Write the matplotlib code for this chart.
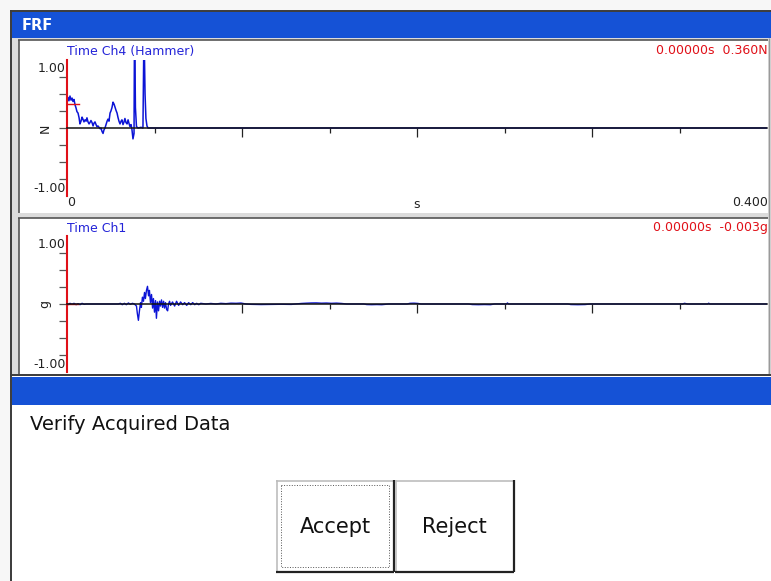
import matplotlib
matplotlib.use("Agg")
import matplotlib.pyplot as plt
from matplotlib.patches import Rectangle
from matplotlib.ticker import FixedLocator

# Ch4 (hammer) time trace, ms and N
hammer_ms = [0.0, 0.6, 1.1, 1.7, 2.3, 2.9, 3.4, 4.0, 4.6, 5.1, 5.7, 6.3, 6.9, 7.4,
             8.0, 8.6, 9.1, 9.7, 10.3, 10.9, 11.4, 12.0, 12.6, 13.1, 13.7, 14.3,
             14.9, 15.4, 16.0, 16.6, 17.1, 17.7, 18.3, 18.9, 19.4, 20.0, 20.6,
             21.1, 21.7, 22.3, 22.9, 23.4, 24.0, 24.6, 25.1, 25.7, 26.3, 26.9,
             27.4, 28.0, 28.6, 29.1, 29.7, 30.3, 30.9, 31.4, 32.0, 32.6, 33.1,
             33.7, 34.3, 34.9, 35.4, 36.0, 36.6, 37.1, 37.7, 38.3, 38.6, 39.1,
             39.7, 40.6, 42.3, 43.4, 44.0, 44.6, 45.1, 45.7, 46.3, 400.0]
hammer_n = [0.38, 0.45, 0.40, 0.47, 0.41, 0.44, 0.39, 0.42, 0.34, 0.30, 0.24, 0.22,
            0.15, 0.06, 0.10, 0.16, 0.13, 0.09, 0.12, 0.10, 0.15, 0.09, 0.06, 0.08,
            0.11, 0.08, 0.03, 0.07, 0.09, 0.05, 0.02, 0.03, 0.01, -0.01, 0.00,
            -0.05, -0.08, -0.03, 0.00, 0.05, 0.10, 0.13, 0.10, 0.22, 0.25, 0.30,
            0.38, 0.35, 0.31, 0.26, 0.22, 0.16, 0.10, 0.06, 0.10, 0.12, 0.05, 0.09,
            0.14, 0.08, 0.06, 0.12, 0.07, 0.02, 0.05, -0.02, -0.16, -0.08, 1.60,
            0.30, 0.02, 0.00, 0.01, 0.00, 1.50, 0.50, 0.14, 0.03, 0.00, 0.00]

# Ch1 (response) time trace, ms and g
resp_ms = [0.0, 0.6, 1.7, 2.9, 4.0, 5.2, 6.3, 7.5, 8.6, 9.8, 10.9, 29.3, 30.5, 31.6,
           32.8, 33.9, 35.1, 36.2, 37.4, 38.5, 39.7, 40.2, 40.8, 41.4, 42.0, 42.5,
           43.1, 43.7, 44.3, 44.8, 45.4, 46.0, 46.6, 47.1, 47.7, 48.3, 48.9, 49.4,
           50.0, 50.6, 51.1, 51.7, 52.3, 52.9, 53.4, 54.0, 54.6, 55.2, 55.7, 56.3,
           56.9, 57.5, 58.0, 58.6, 59.2, 60.3, 61.5, 62.6, 63.8, 64.9, 66.1, 67.2,
           68.4, 69.5, 70.7, 71.8, 73.0, 74.1, 75.3, 76.4, 79.3, 82.2, 85.1, 87.9,
           90.8, 93.7, 96.6, 99.4, 102.3, 105.2, 110.9, 116.7, 122.4, 128.2, 133.9,
           136.8, 139.7, 142.5, 145.4, 148.3, 151.1, 154.0, 156.9, 159.8, 169.5,
           171.3, 174.1, 177.0, 179.9, 183.9, 194.3, 196.0, 198.3, 200.6, 202.3,
           229.3, 231.6, 235.1, 238.5, 242.0, 244.3, 251.1, 251.7, 252.3, 286.2,
           287.9, 291.9, 296.0, 298.9, 351.7, 352.9, 354.6, 366.1, 366.7, 367.2,
           400.0]
resp_g = [0.0, -0.01, 0.01, -0.005, 0.01, -0.01, 0.005, -0.01, 0.01, -0.005, 0.0,
          0.0, 0.01, -0.01, 0.01, -0.01, 0.015, -0.005, 0.01, 0.0, -0.03, -0.14,
          -0.24, -0.10, 0.02, -0.05, 0.10, 0.04, 0.17, 0.08, 0.20, 0.26, 0.12,
          0.20, 0.02, 0.14, -0.06, 0.08, -0.12, 0.05, -0.21, 0.03, -0.10, 0.04,
          -0.03, 0.06, -0.05, 0.04, -0.06, 0.02, -0.08, -0.10, 0.00, 0.04, -0.02,
          0.03, -0.03, 0.04, -0.02, 0.03, -0.01, 0.02, -0.02, 0.02, -0.01, 0.02,
          -0.01, 0.01, -0.01, 0.01, 0.0, 0.008, 0.0, 0.01, 0.005, 0.012, 0.01,
          0.014, 0.0, -0.005, -0.008, -0.006, -0.004, -0.006, 0.008, 0.012, 0.015,
          0.016, 0.012, 0.014, 0.010, 0.013, 0.008, 0.0, 0.0, -0.008, -0.01,
          -0.008, -0.01, 0.0, 0.0, 0.01, 0.012, 0.008, 0.0, 0.0, -0.008, -0.01,
          -0.008, -0.01, 0.0, 0.0, 0.015, 0.0, 0.0, -0.008, -0.01, -0.008, 0.0,
          0.0, 0.01, 0.0, 0.0, 0.012, 0.0, 0.0]

cursor_s = 0.0
cursor_hammer = 0.360
cursor_resp = -0.003
x_max = 0.400
y_lim = 1.00

W, H = 771, 581
BLUE_BAR = "#1552d6"
SIG = "#0c14d6"
TXT_BLUE = "#2424d8"
RED = "#e01018"
DARK = "#3a3a3a"

fig = plt.figure(figsize=(W / 100, H / 100), dpi=100, facecolor="#f7f7f7")

# background axes in pixel coordinates for the window chrome
bg = fig.add_axes([0, 0, 1, 1])
bg.set_xlim(0, W)
bg.set_ylim(H, 0)
bg.axis("off")


def rect(x0, y0, x1, y1, fc, ec="none", lw=0, **kw):
    bg.add_patch(Rectangle((x0, y0), x1 - x0, y1 - y0, facecolor=fc,
                           edgecolor=ec, linewidth=lw, **kw))


def hline(x0, x1, y, c, lw=1.0, **kw):
    bg.plot([x0, x1], [y, y], color=c, lw=lw, solid_capstyle="butt", **kw)


def vline(x, y0, y1, c, lw=1.0, **kw):
    bg.plot([x, x], [y0, y1], color=c, lw=lw, solid_capstyle="butt", **kw)


# outer window
rect(11, 11, W, H, "#dcdcdc")
hline(10, W, 10.5, DARK, 1.4)
vline(10.5, 10, H, DARK, 1.4)
rect(12, 12, W, 38, BLUE_BAR)
bg.text(22, 25.5, "FRF", color="white", fontsize=10.5, fontweight="bold",
        ha="left", va="center")

# two plot panels
for top, bot in [(40, 213), (218, 376)]:
    rect(19, top, 768, bot, "white")
    hline(18, 768, top, "#555555", 1.2)
    vline(18.5, top, bot, "#555555", 1.2)
vline(769, 38, 376, "#9a9a9a", 1.0)


def add_plot(y_top, y_bot):
    ax = fig.add_axes([67 / W, 1 - y_bot / H, 700 / W, (y_bot - y_top) / H])
    ax.set_xlim(0, x_max)
    ax.set_ylim(-y_lim, y_lim)
    ax.patch.set_alpha(0)
    ax.spines["top"].set_visible(False)
    ax.spines["right"].set_visible(False)
    ax.spines["left"].set_color(RED)
    ax.spines["left"].set_linewidth(1.5)
    ax.spines["bottom"].set_position(("data", 0))
    ax.spines["bottom"].set_color("#111111")
    ax.spines["bottom"].set_linewidth(1.1)
    ax.xaxis.set_major_locator(FixedLocator([0.1, 0.2, 0.3]))
    ax.xaxis.set_minor_locator(FixedLocator([0.05, 0.15, 0.25, 0.35]))
    ax.yaxis.set_major_locator(FixedLocator([-0.75, -0.5, -0.25, 0, 0.25, 0.5, 0.75]))
    ax.tick_params(axis="x", which="major", length=6.5, width=0.9, color="#222222",
                   labelbottom=False)
    ax.tick_params(axis="x", which="minor", length=3.6, width=0.9, color="#222222")
    ax.tick_params(axis="y", length=6.0, width=0.9, color="#555555", labelleft=False)
    return ax


ax1 = add_plot(60, 196)
ax1.plot([t / 1000 for t in hammer_ms], hammer_n, color=SIG, lw=1.1)
ax1.plot([cursor_s, cursor_s + 0.007], [cursor_hammer, cursor_hammer], color=RED, lw=1.0)

ax2 = add_plot(236, 372)
ax2.plot([t / 1000 for t in resp_ms], resp_g, color=SIG, lw=1.0)
ax2.plot([cursor_s, cursor_s + 0.006], [cursor_resp, cursor_resp], color=RED, lw=1.0)

fs = 9
# panel 1 labels
bg.text(67, 51, "Time Ch4 (Hammer)", color=TXT_BLUE, fontsize=fs, ha="left", va="center")
bg.text(768, 51, f"{cursor_s:.5f}s  {cursor_hammer:.3f}N", color=RED, fontsize=fs,
        ha="right", va="center")
bg.text(66, 68, f"{y_lim:.2f}", fontsize=fs, ha="right", va="center", color="#222222")
bg.text(66, 188, f"{-y_lim:.2f}", fontsize=fs, ha="right", va="center", color="#222222")
bg.text(45, 128, "N", fontsize=fs, rotation=90, ha="center", va="center", color="#222222")
bg.text(67, 203, "0", fontsize=fs, ha="left", va="center", color="#222222")
bg.text(417, 204, "s", fontsize=fs, ha="center", va="center", color="#222222")
bg.text(768, 203, f"{x_max:.3f}", fontsize=fs, ha="right", va="center", color="#222222")

# panel 2 labels
bg.text(67, 228, "Time Ch1", color=TXT_BLUE, fontsize=fs, ha="left", va="center")
bg.text(768, 228, f"{cursor_s:.5f}s  {cursor_resp:.3f}g", color=RED, fontsize=fs,
        ha="right", va="center")
bg.text(66, 244, f"{y_lim:.2f}", fontsize=fs, ha="right", va="center", color="#222222")
bg.text(66, 364, f"{-y_lim:.2f}", fontsize=fs, ha="right", va="center", color="#222222")
bg.text(45, 304, "g", fontsize=fs, rotation=90, ha="center", va="center", color="#222222")

# verify dialog at the bottom
rect(10, 374, W, H, "white", zorder=5)
hline(10, W, 375, DARK, 1.4, zorder=6)
vline(11, 374, H, DARK, 1.4, zorder=6)
rect(12, 377, W, 405, BLUE_BAR, zorder=6)
bg.text(30, 425, "Verify Acquired Data", fontsize=14, ha="left", va="center",
        color="#111111", zorder=7)

for x0, x1, label in [(276, 394, "Accept"), (395, 514, "Reject")]:
    rect(x0, 480, x1, 572, "white", zorder=6)
    hline(x0, x1, 480.5, "#bdbdbd", 1.2, zorder=7)
    vline(x0 + 0.5, 480, 572, "#bdbdbd", 1.2, zorder=7)
    hline(x0, x1, 571.5, "#222222", 1.6, zorder=7)
    vline(x1 - 0.5, 480, 572, "#222222", 1.6, zorder=7)
    bg.text((x0 + x1) / 2, 527, label, fontsize=15, ha="center", va="center",
            color="#111111", zorder=8)
rect(281, 485, 389, 567, "none", ec="#555555", lw=0.7, ls=":", zorder=8)

fig.savefig("out.png", dpi=100, facecolor=fig.get_facecolor())
